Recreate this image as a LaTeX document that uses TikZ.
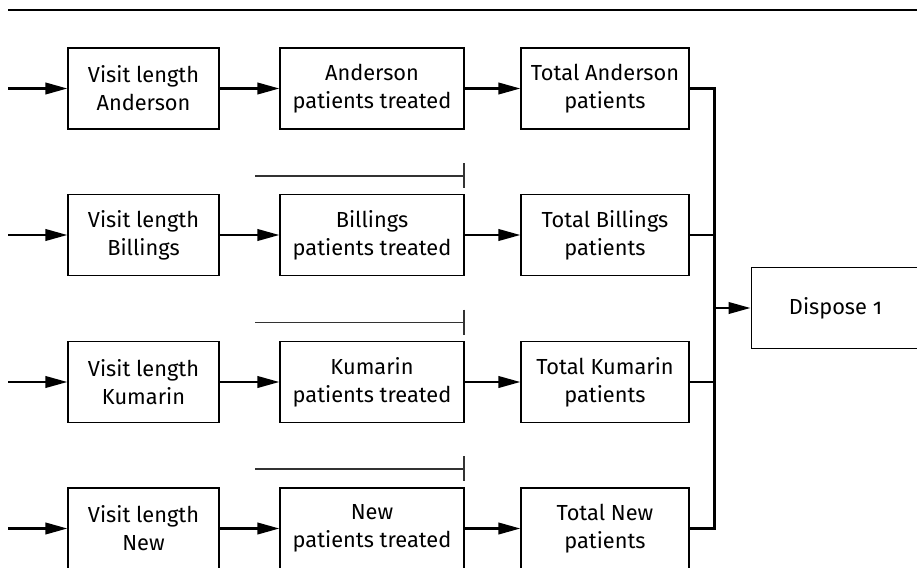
\documentclass[tikz,border=0pt]{standalone}
\usepackage{fontspec}
\setmainfont{Fira Sans}[Numbers=OldStyle]
\usetikzlibrary{arrows.meta}

\tikzset{
  block/.style={draw, line width=0.7pt, align=center, inner sep=0pt,
    minimum height=1.62cm, font=\fontsize{12.4}{16}\selectfont},
  visit/.style={block, minimum width=3.02cm},
  treated/.style={block, minimum width=3.68cm},
  total/.style={block, minimum width=3.36cm},
  flow/.style={line width=1.4pt, -{Triangle[length=12.5pt,width=6.5pt]}},
  wire/.style={line width=1.4pt},
  limit/.style={line width=0.6pt, draw=black!80},
}

\begin{document}
\begin{tikzpicture}[x=0.02cm, y=-0.02cm]
            \useasboundingbox (0,0) rectangle (917,568);

            % Rule across the top
            \draw[line width=1.7pt] (8,10) -- (917,10);

            % Anderson row
            \node[visit]   (vA) at (143.5, 88.5) {Visit length\\Anderson};
            \node[treated] (pA) at (372, 88.5) {Anderson\\patients treated};
            \node[total]   (tA) at (605, 88.5) {Total Anderson\\patients};
            \coordinate (inA) at (8, 88.5);

            % Billings row
            \node[visit]   (vB) at (143.5, 235) {Visit length\\Billings};
            \node[treated] (pB) at (372, 235) {Billings\\patients treated};
            \node[total]   (tB) at (605, 235) {Total Billings\\patients};
            \coordinate (inB) at (8, 235);

            % Kumarin row
            \node[visit]   (vK) at (143.5, 382) {Visit length\\Kumarin};
            \node[treated] (pK) at (372, 382) {Kumarin\\patients treated};
            \node[total]   (tK) at (605, 382) {Total Kumarin\\patients};
            \coordinate (inK) at (8, 382);

            % New row
            \node[visit]   (vN) at (143.5, 528.5) {Visit length\\New};
            \node[treated] (pN) at (372, 528.5) {New\\patients treated};
            \node[total]   (tN) at (605, 528.5) {Total New\\patients};
            \coordinate (inN) at (8, 528.5);

            % Sink on the right
            \node[total, line width=1.1pt] (dispose) at (835.5, 308) {Dispose 1};

            % Arrows along each row
            \draw[flow] (inA) -- (vA);
            \draw[flow] (vA) -- (pA);
            \draw[flow] (pA) -- (tA);

            \draw[flow] (inB) -- (vB);
            \draw[flow] (vB) -- (pB);
            \draw[flow] (pB) -- (tB);

            \draw[flow] (inK) -- (vK);
            \draw[flow] (vK) -- (pK);
            \draw[flow] (pK) -- (tK);

            \draw[flow] (inN) -- (vN);
            \draw[flow] (vN) -- (pN);
            \draw[flow] (pN) -- (tN);

            % Thin stop lines over the treated boxes
            \draw[limit] (255,176) -- (464,176) (464,163) -- (464,188);
            \draw[limit] (255,322.5) -- (464,322.5) (464,309.5) -- (464,334.5);
            \draw[limit] (255,469) -- (464,469) (464,456) -- (464,481);

            % Collect the totals into the sink
            \draw[wire] (tA.east) -- ++(25,0) coordinate (bus) |- (tN.east);
            \draw[wire] (tB.east) -- (tB.east -| bus);
            \draw[wire] (tK.east) -- (tK.east -| bus);
            \draw[flow] (dispose.west -| bus) -- (dispose.west);

\end{tikzpicture}
\end{document}
